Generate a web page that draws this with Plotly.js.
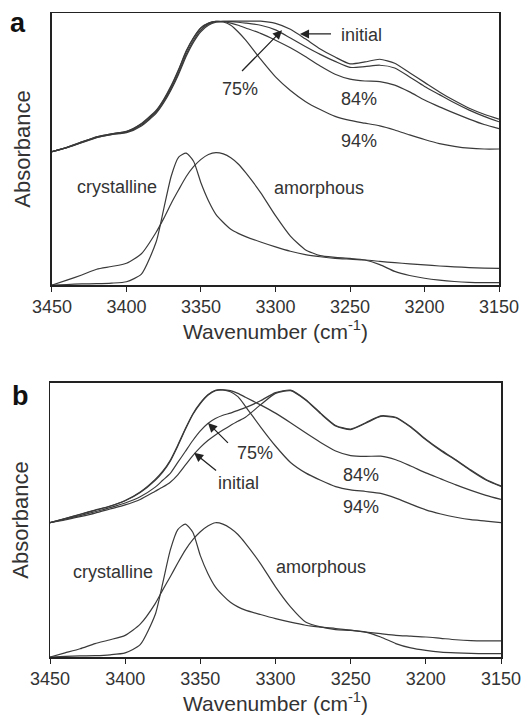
<!DOCTYPE html>
<html>
<head>
<meta charset="utf-8">
<script src="https://cdn.plot.ly/plotly-3.0.1.min.js"></script>
<style>html,body{margin:0;padding:0;background:#fff;}#chart{width:527px;height:724px;}</style>
</head>
<body>
<div id="chart"></div>
<script>
// Wavenumber grid (cm-1)
const wavenumber = [3450,3440,3430,3420,3410,3400,3390,3380,3375,3370,3365,3360,3355,3350,3345,3340,3335,3330,3325,3320,3310,3300,3290,3280,3270,3260,3250,3240,3230,3220,3210,3200,3190,3180,3170,3160,3150];

// Panel a (relative absorbance, offset)
const aInitial = [0.490,0.505,0.523,0.542,0.553,0.560,0.585,0.632,0.670,0.718,0.775,0.840,0.893,0.932,0.955,0.966,0.969,0.970,0.970,0.970,0.970,0.962,0.940,0.905,0.868,0.838,0.813,0.820,0.830,0.815,0.780,0.745,0.710,0.678,0.650,0.628,0.610];
const a75 = [0.490,0.505,0.524,0.543,0.554,0.562,0.588,0.636,0.675,0.723,0.781,0.847,0.900,0.938,0.959,0.968,0.969,0.968,0.966,0.963,0.955,0.938,0.908,0.877,0.848,0.822,0.800,0.803,0.808,0.798,0.765,0.730,0.700,0.670,0.643,0.620,0.600];
const a84 = [0.490,0.506,0.526,0.545,0.556,0.564,0.592,0.640,0.680,0.730,0.790,0.857,0.908,0.945,0.962,0.969,0.968,0.963,0.955,0.945,0.925,0.900,0.872,0.840,0.805,0.775,0.757,0.750,0.748,0.735,0.710,0.680,0.655,0.632,0.610,0.590,0.575];
const a94 = [0.490,0.506,0.526,0.545,0.556,0.565,0.594,0.643,0.683,0.733,0.793,0.860,0.910,0.946,0.963,0.969,0.967,0.955,0.930,0.900,0.830,0.765,0.715,0.675,0.645,0.620,0.605,0.595,0.585,0.570,0.552,0.535,0.520,0.510,0.503,0.500,0.500];
const aCrystalline = [0.000,0.002,0.004,0.005,0.007,0.012,0.040,0.160,0.280,0.400,0.470,0.485,0.455,0.375,0.310,0.260,0.230,0.205,0.190,0.178,0.158,0.140,0.124,0.112,0.104,0.098,0.095,0.092,0.087,0.082,0.078,0.074,0.070,0.067,0.064,0.062,0.061];
const aAmorphous = [0.000,0.018,0.037,0.058,0.068,0.080,0.115,0.195,0.245,0.300,0.350,0.398,0.435,0.462,0.480,0.487,0.482,0.468,0.445,0.413,0.340,0.255,0.180,0.130,0.108,0.102,0.098,0.092,0.075,0.050,0.035,0.025,0.018,0.013,0.010,0.009,0.009];

// Panel b
const bInitial = [0.490,0.500,0.512,0.525,0.540,0.555,0.575,0.605,0.620,0.638,0.665,0.700,0.735,0.765,0.790,0.810,0.828,0.845,0.860,0.875,0.920,0.962,0.972,0.938,0.888,0.843,0.830,0.853,0.878,0.873,0.838,0.793,0.753,0.718,0.680,0.646,0.622];
const b75 = [0.490,0.503,0.516,0.530,0.545,0.562,0.585,0.620,0.645,0.670,0.710,0.750,0.790,0.825,0.852,0.870,0.882,0.890,0.900,0.910,0.935,0.965,0.974,0.940,0.890,0.845,0.832,0.855,0.880,0.875,0.840,0.795,0.755,0.720,0.682,0.648,0.624];
const b84 = [0.490,0.505,0.520,0.535,0.550,0.570,0.600,0.645,0.675,0.715,0.770,0.830,0.885,0.925,0.955,0.972,0.975,0.972,0.962,0.948,0.920,0.890,0.855,0.818,0.783,0.752,0.735,0.732,0.733,0.720,0.697,0.672,0.650,0.628,0.608,0.590,0.575];
const b94 = [0.490,0.505,0.521,0.536,0.551,0.571,0.602,0.648,0.678,0.718,0.773,0.833,0.887,0.927,0.957,0.973,0.975,0.968,0.950,0.915,0.840,0.770,0.710,0.672,0.645,0.622,0.610,0.604,0.597,0.580,0.558,0.537,0.522,0.510,0.501,0.496,0.490];
const bCrystalline = [0.000,0.002,0.004,0.005,0.008,0.015,0.045,0.155,0.270,0.390,0.465,0.485,0.455,0.370,0.305,0.256,0.225,0.200,0.183,0.171,0.155,0.140,0.127,0.116,0.109,0.104,0.098,0.091,0.085,0.079,0.076,0.073,0.068,0.063,0.060,0.059,0.059];
const bAmorphous = [0.000,0.015,0.030,0.049,0.063,0.079,0.120,0.195,0.245,0.293,0.343,0.390,0.428,0.457,0.478,0.490,0.485,0.470,0.447,0.415,0.341,0.256,0.183,0.128,0.110,0.100,0.097,0.091,0.073,0.049,0.033,0.024,0.018,0.015,0.013,0.012,0.012];

const xTicks = [3450,3400,3350,3300,3250,3200,3150];

const lineStyle = {color:'#3a3a3a', width:1.2, shape:'spline', smoothing:0.6};
function tr(y, xa, ya, name){
  return {x: wavenumber, y: y, type:'scatter', mode:'lines', line: lineStyle, xaxis: xa, yaxis: ya, name: name, showlegend:false, hoverinfo:'skip'};
}
const data = [
  tr(aInitial,'x','y','initial'), tr(a75,'x','y','75%'), tr(a84,'x','y','84%'), tr(a94,'x','y','94%'),
  tr(aCrystalline,'x','y','crystalline'), tr(aAmorphous,'x','y','amorphous'),
  tr(bInitial,'x2','y2','initial'), tr(b75,'x2','y2','75%'), tr(b84,'x2','y2','84%'), tr(b94,'x2','y2','94%'),
  tr(bCrystalline,'x2','y2','crystalline'), tr(bAmorphous,'x2','y2','amorphous')
];

const FONT = 'Liberation Sans, Arial, sans-serif';
const TXT = '#333';
function xAxis(domain, anchor){
  return {domain: domain, anchor: anchor, range:[3450,3150], tickvals: xTicks, ticktext: xTicks.map(String),
    showline:true, mirror:true, linecolor:'#222', linewidth:1.5, ticks:'outside', ticklen:5, tickcolor:'#222',
    showgrid:false, zeroline:false, tickfont:{family:FONT, size:18, color:TXT},
    title:{text:'Wavenumber (cm<sup>-1</sup>)', font:{family:FONT, size:21, color:TXT}, standoff:8}};
}
function yAxis(domain, anchor){
  return {domain: domain, anchor: anchor, range:[0,1], showticklabels:false, ticks:'',
    showline:true, mirror:true, linecolor:'#222', linewidth:1.5, showgrid:false, zeroline:false,
    title:{text:'Absorbance', font:{family:FONT, size:22, color:TXT}, standoff:14}};
}
function lab(text, x, y, xr, yr){
  return {text:text, x:x, y:y, xref:xr, yref:yr, showarrow:false, font:{family:FONT, size:18, color:TXT}, xanchor:'center', yanchor:'middle'};
}
function arrow(x, y, ax, ay, xr, yr){
  return {text:' ', x:x, y:y, ax:ax, ay:ay, xref:xr, yref:yr, axref:xr, ayref:yr, showarrow:true,
    arrowhead:2, arrowsize:1.4, arrowwidth:1.3, arrowcolor:'#222', standoff:0, font:{size:4}};
}
const annotations = [
  {text:'<b>a</b>', x:0, y:1, xref:'paper', yref:'paper', xshift:-32, yshift:7, showarrow:false, xanchor:'center', yanchor:'top', font:{family:FONT, size:27, color:'#111'}},
  {text:'<b>b</b>', x:0, y:0.4255, xref:'paper', yref:'paper', xshift:-30, yshift:4, showarrow:false, xanchor:'center', yanchor:'top', font:{family:FONT, size:27, color:'#111'}},
  lab('initial',3242,0.919,'x','y'), arrow(3283.6,0.923,3261.4,0.923,'x','y'),
  lab('75%',3323.8,0.72,'x','y'), arrow(3295.6,0.937,3323.8,0.779,'x','y'),
  lab('84%',3244,0.684,'x','y'), lab('94%',3244,0.529,'x','y'),
  lab('crystalline',3406.4,0.36,'x','y'), lab('amorphous',3270.8,0.357,'x','y'),
  lab('75%',3313.6,0.745,'x2','y2'), arrow(3344.9,0.854,3330.3,0.774,'x2','y2'),
  lab('initial',3324.9,0.635,'x2','y2'), arrow(3354.2,0.745,3338.2,0.675,'x2','y2'),
  lab('84%',3243,0.664,'x2','y2'), lab('94%',3243,0.547,'x2','y2'),
  lab('crystalline',3408,0.31,'x2','y2'), lab('amorphous',3270,0.328,'x2','y2')
];

const layout = {
  width:527, height:724, paper_bgcolor:'#fff', plot_bgcolor:'#fff',
  margin:{l:50, r:26, t:13, b:67},
  showlegend:false,
  xaxis: xAxis([0.0044,0.9956],'y'),
  yaxis: yAxis([0.5776,1],'x'),
  xaxis2: xAxis([0,1],'y2'),
  yaxis2: yAxis([0,0.4255],'x2'),
  annotations: annotations
};
Plotly.newPlot('chart', data, layout, {staticPlot:true, displayModeBar:false});
</script>
</body>
</html>
